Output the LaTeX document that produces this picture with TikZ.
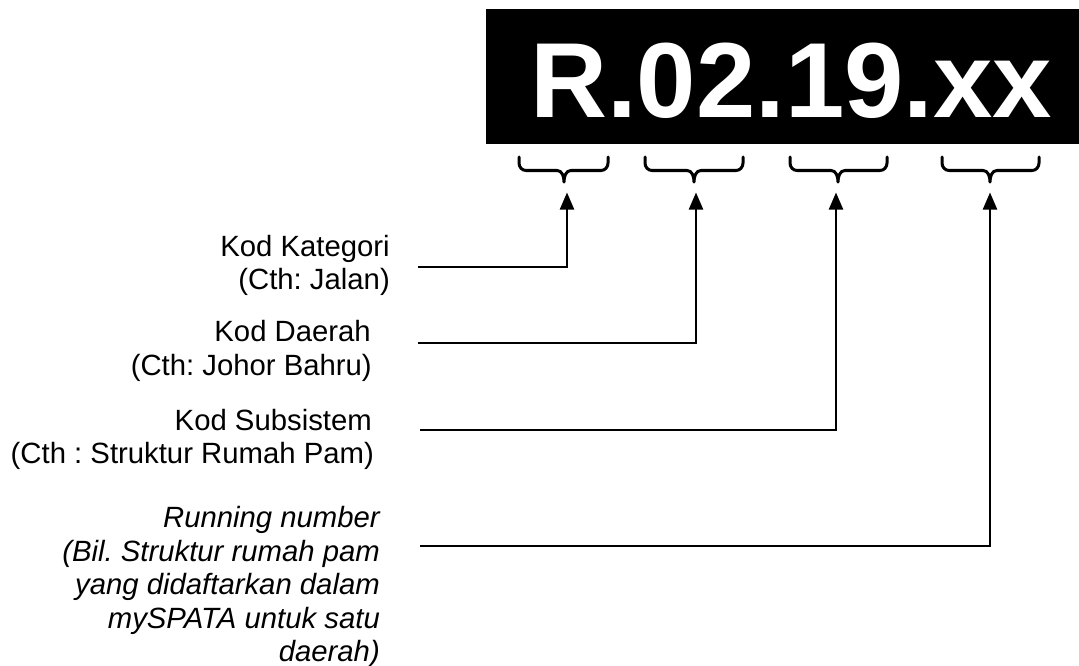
\documentclass[tikz,border=0pt]{standalone}
\usepackage{fontspec}
\setmainfont{Liberation Sans}
\usetikzlibrary{arrows.meta}
\frenchspacing
\tikzset{
  lbl/.style={anchor=base east, inner sep=0pt, font=\fontsize{29.3}{33.5}\selectfont},
  ilbl/.style={lbl, font=\fontsize{29.3}{33.5}\selectfont\itshape},
  conn/.style={line width=2.2pt, -{Triangle[length=17pt,width=14pt]}},
  brace/.style={line width=3pt, line cap=round, line join=round},
}
\newcommand{\hbrace}[4]{% name, x1, x2, tip
  \draw[brace] (#2,-157) -- (#2,-163) to[out=-90,in=180] (#2+7,-170.5) -- (#4-7,-170.5)
    to[out=0,in=90] (#4,-182) to[out=90,in=180] (#4+7,-170.5) -- (#3-7,-170.5)
    to[out=0,in=-90] (#3,-163) -- (#3,-157);
}
\begin{document}
\begin{tikzpicture}[x=1pt,y=1pt]
\useasboundingbox (0,0) rectangle (1079,-666);
% black code box
\fill[black] (486,-9) rectangle (1079,-144);
\node[anchor=base west, inner sep=0pt, text=white, font=\fontsize{106.7}{110}\selectfont\bfseries] (code) at (530,-118) {R.02.19.xx};
% braces
\hbrace{b1}{519}{608}{564}
\hbrace{b2}{645}{743}{694}
\hbrace{b3}{790}{887}{838}
\hbrace{b4}{942}{1039}{990}
% arrow tips
\coordinate (a1) at (567,-192.5);
\coordinate (a2) at (696,-192.5);
\coordinate (a3) at (836,-192.5);
\coordinate (a4) at (990,-192.5);
% connector starts
\coordinate (c1) at (418,-266.7);
\coordinate (c2) at (418,-343);
\coordinate (c3) at (420,-430);
\coordinate (c4) at (420,-546);
\draw[conn] (c1) -| (a1);
\draw[conn] (c2) -| (a2);
\draw[conn] (c3) -| (a3);
\draw[conn] (c4) -| (a4);
% labels
\node[lbl] (k1a) at (390,-256) {Kod Kategori};
\node[lbl] (k1b) at (390,-289) {(Cth: Jalan)};
\node[lbl] (k2a) at (371,-341) {Kod Daerah};
\node[lbl] (k2b) at (372,-375) {(Cth: Johor Bahru)};
\node[lbl] (k3a) at (372,-430) {Kod Subsistem};
\node[lbl] (k3b) at (374,-463) {(Cth : Struktur Rumah Pam)};
\node[ilbl] (k4a) at (380,-527) {Running number};
\node[ilbl] (k4b) at (380,-561) {(Bil. Struktur rumah pam};
\node[ilbl] (k4c) at (380,-594) {yang didaftarkan dalam};
\node[ilbl] (k4d) at (380,-628) {mySPATA untuk satu};
\node[ilbl] (k4e) at (380,-661) {daerah)};
\end{tikzpicture}
\end{document}
